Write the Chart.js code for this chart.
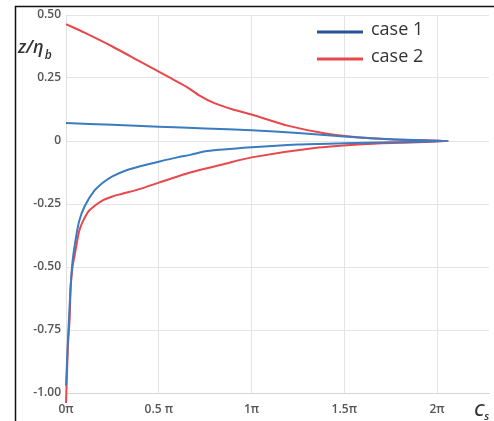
<!DOCTYPE html>
<html>
<head>
<meta charset="utf-8">
<script src="https://cdn.jsdelivr.net/npm/chart.js@4/dist/chart.umd.min.js"></script>
<style>
  html, body { margin: 0; padding: 0; background: #fff; }
  #wrap { position: relative; width: 494px; height: 421px; }
</style>
</head>
<body>
<div id="wrap"><canvas id="c" width="494" height="421"></canvas></div>
<script>
// x values are in units of π (C_s / π); y values are z/η_b
const seriesLabels = ['case 1', 'case 2'];
const xTickValues = [0, 0.5, 1, 1.5, 2];
const xTickLabels = ['0π', '0.5 π', '1π', '1.5π', '2π'];
const yTickValues = [0.5, 0.25, 0, -0.25, -0.5, -0.75, -1];
const yTickLabels = ['0.50', '0.25', '0', '-0.25', '-0.50', '-0.75', '-1.00'];

// case 1 – upper branch (left to right), then lower branch (right to left)
const case1UpperX = [0, 0.25, 0.5, 0.75, 1.0, 1.25, 1.5, 1.75, 2.06];
const case1UpperY = [0.071, 0.064, 0.057, 0.050, 0.043, 0.032, 0.018, 0.007, 0];
const case1LowerX = [1.75, 1.5, 1.25, 1.0, 0.76, 0.67, 0.6, 0.5, 0.4, 0.33, 0.25, 0.2, 0.15, 0.1, 0.07, 0.05, 0.035, 0.025, 0.015, 0.008, 0.003, 0];
const case1LowerY = [-0.005, -0.009, -0.014, -0.025, -0.04, -0.055, -0.065, -0.082, -0.10, -0.115, -0.14, -0.165, -0.20, -0.26, -0.32, -0.40, -0.48, -0.58, -0.72, -0.83, -0.92, -0.97];

// case 2 – upper branch, then lower branch
const case2UpperX = [0, 0.1, 0.25, 0.4, 0.55, 0.65, 0.72, 0.8, 0.9, 1.0, 1.2, 1.4, 1.6, 1.8, 2.06];
const case2UpperY = [0.464, 0.43, 0.375, 0.315, 0.255, 0.215, 0.18, 0.15, 0.125, 0.105, 0.06, 0.03, 0.013, 0.005, 0];
const case2LowerX = [1.8, 1.6, 1.34, 1.0, 0.85, 0.67, 0.5, 0.4, 0.3, 0.25, 0.2, 0.15, 0.12, 0.09, 0.07, 0.05, 0.035, 0.025, 0.02, 0.015, 0.01, 0.005, 0];
const case2LowerY = [-0.007, -0.013, -0.028, -0.065, -0.092, -0.125, -0.165, -0.19, -0.21, -0.22, -0.235, -0.26, -0.28, -0.32, -0.36, -0.44, -0.50, -0.58, -0.70, -0.76, -0.82, -0.93, -1.04];

const lineColors = ['#3b7bbf', '#e8474b'];
const legendColors = ['#2c519c', '#e44a4c'];

function toPoints(xs, ys) { return xs.map((x, i) => ({ x: x, y: ys[i] })); }

const case1Data = toPoints(case1UpperX, case1UpperY).concat(toPoints(case1LowerX, case1LowerY));
const case2Data = toPoints(case2UpperX, case2UpperY).concat(toPoints(case2LowerX, case2LowerY));

const FONT = "'Open Sans', 'Liberation Sans', sans-serif";

const decorPlugin = {
  id: 'decor',
  afterDraw(chart) {
    const ctx = chart.ctx;
    ctx.save();
    // frame (left and top edges)
    ctx.strokeStyle = '#111';
    ctx.lineWidth = 1.5;
    ctx.beginPath();
    ctx.moveTo(15.5, 421);
    ctx.lineTo(15.5, 6.5);
    ctx.lineTo(494, 6.5);
    ctx.stroke();

    // legend
    const lx0 = 317, lx1 = 363;
    const rows = [32, 59];
    ctx.lineWidth = 3;
    ctx.lineCap = 'butt';
    ctx.textBaseline = 'middle';
    ctx.textAlign = 'left';
    ctx.font = "18px " + FONT;
    chart.data.datasets.forEach((ds, i) => {
      ctx.strokeStyle = legendColors[i];
      ctx.beginPath();
      ctx.moveTo(lx0, rows[i]);
      ctx.lineTo(lx1, rows[i]);
      ctx.stroke();
      ctx.fillStyle = '#333';
      ctx.fillText(ds.label, 371, rows[i] - 2);
    });

    // y axis title z/η_b
    ctx.fillStyle = '#333';
    ctx.font = "italic 600 18px " + FONT;
    ctx.textBaseline = 'alphabetic';
    ctx.fillText('z/η', 18, 53);
    const w = ctx.measureText('z/η').width;
    ctx.font = "italic 600 12px " + FONT;
    ctx.fillText('b', 19 + w, 59);

    // x axis title C_s
    ctx.font = "italic 600 17px " + FONT;
    ctx.fillText('C', 474, 416);
    const wc = ctx.measureText('C').width;
    ctx.font = "italic 600 11px " + FONT;
    ctx.fillText('s', 474 + wc, 420);
    ctx.restore();
  }
};

new Chart(document.getElementById('c'), {
  type: 'scatter',
  data: {
    datasets: [
      { label: seriesLabels[0], data: case1Data, showLine: true, borderColor: lineColors[0], backgroundColor: lineColors[0], borderWidth: 2, pointRadius: 0, tension: 0.25, clip: false },
      { label: seriesLabels[1], data: case2Data, showLine: true, borderColor: lineColors[1], backgroundColor: lineColors[1], borderWidth: 2, pointRadius: 0, tension: 0.25, clip: false }
    ]
  },
  options: {
    responsive: false,
    animation: false,
    layout: { padding: { top: 15, right: 5, left: 0, bottom: 0 } },
    plugins: { legend: { display: false }, tooltip: { enabled: false } },
    scales: {
      x: {
        type: 'linear',
        min: 0, max: 2.28,
        afterFit(s) { s.height = 28; },
        afterBuildTicks(s) { s.ticks = xTickValues.map(v => ({ value: v })); },
        ticks: {
          padding: 9,
          color: '#555',
          font: { family: FONT, size: 12, weight: '600' },
          callback(v) { const i = xTickValues.indexOf(v); return i >= 0 ? xTickLabels[i] : ''; }
        },
        grid: { color: '#e4e4e4', drawTicks: false, lineWidth: 1 },
        border: { color: '#d6d6d6' }
      },
      y: {
        type: 'linear',
        min: -1, max: 0.5,
        afterFit(s) { s.width = 66; },
        afterBuildTicks(s) { s.ticks = yTickValues.slice().reverse().map(v => ({ value: v })); },
        ticks: {
          padding: 5,
          color: '#555',
          font: { family: FONT, size: 12, weight: '600' },
          callback(v) { const i = yTickValues.indexOf(v); return i >= 0 ? yTickLabels[i] : ''; }
        },
        grid: { color: '#e4e4e4', drawTicks: false, lineWidth: 1 },
        border: { color: '#e0e0e0' }
      }
    }
  },
  plugins: [decorPlugin]
});
</script>
</body>
</html>
